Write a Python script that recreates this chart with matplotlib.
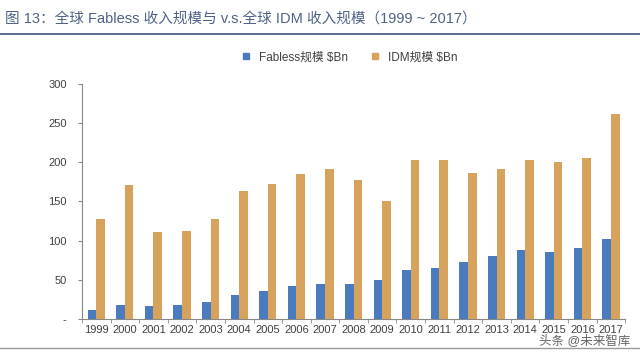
import matplotlib
matplotlib.use("Agg")
import matplotlib.pyplot as plt
import numpy as np
from matplotlib.lines import Line2D

plt.rcParams['font.family'] = ['Liberation Sans', 'Noto Sans CJK SC', 'DejaVu Sans']

years = [str(y) for y in range(1999, 2018)]
fabless = [11, 18, 16, 18, 22, 31, 36, 42, 44, 44, 50, 62, 65, 73, 80, 88, 86, 91, 102]
idm = [128, 171, 111, 112, 128, 163, 172, 185, 192, 177, 151, 203, 203, 186, 192, 203, 200, 206, 261]
yticks = [0, 50, 100, 150, 200, 250, 300]
ytick_labels = ['-', '50', '100', '150', '200', '250', '300']
title = "图 13：全球 Fabless 收入规模与 v.s.全球 IDM 收入规模（1999 ~ 2017）"
legend_labels = ["Fabless规模 $Bn", "IDM规模 $Bn"]

c_blue = '#4A7BBE'
c_tan = '#D6A25C'
gray = '#888888'

fig = plt.figure(figsize=(6.4, 3.54), dpi=100)
ax = fig.add_axes([0.128, 0.099, 0.849, 0.664])

x = np.arange(len(years))
w = 0.3
ax.bar(x - w / 2, fabless, width=w, color=c_blue, zorder=3)
ax.bar(x + w / 2, idm, width=w, color=c_tan, zorder=3)

ax.set_xlim(-0.5, len(years) - 0.5)
ax.set_ylim(0, 300)
ax.set_yticks(yticks)
ax.set_yticklabels(ytick_labels, fontsize=8, color='#404040')
ax.set_xticks(x)
ax.set_xticklabels(years, fontsize=8, color='#404040')
ax.set_xticks(np.arange(-0.5, len(years), 1), minor=True)
ax.tick_params(axis='x', which='major', length=0, pad=4)
ax.tick_params(axis='x', which='minor', length=3, color=gray, direction='out')
ax.tick_params(axis='y', length=3, color=gray, direction='out', pad=8)
for s in ['top', 'right']:
    ax.spines[s].set_visible(False)
ax.spines['left'].set_color(gray)
ax.spines['bottom'].set_color(gray)

# legend
handles = [Line2D([], [], marker='s', linestyle='', color=c_blue, markersize=5),
           Line2D([], [], marker='s', linestyle='', color=c_tan, markersize=5)]
fig.legend(handles, legend_labels, loc='center', bbox_to_anchor=(0.54, 0.838),
           ncol=2, frameon=False, fontsize=8.5, handletextpad=0.1, columnspacing=1.3,
           labelcolor='#404040')

# title and rules
fig.text(0.008, 0.948, title, fontsize=10.5, color='#4F6285', ha='left', va='center')
fig.add_artist(Line2D([0.0, 1.0], [0.905, 0.905], transform=fig.transFigure, color='#3E5575', lw=1.2))
fig.add_artist(Line2D([0.0, 1.0], [0.018, 0.018], transform=fig.transFigure, color='#999999', lw=1.0))

# watermark
fig.text(0.985, 0.038, "头条 @未来智库", fontsize=9, color='#333333', ha='right', va='center',
         alpha=0.75)

fig.savefig('out.png', dpi=100)
